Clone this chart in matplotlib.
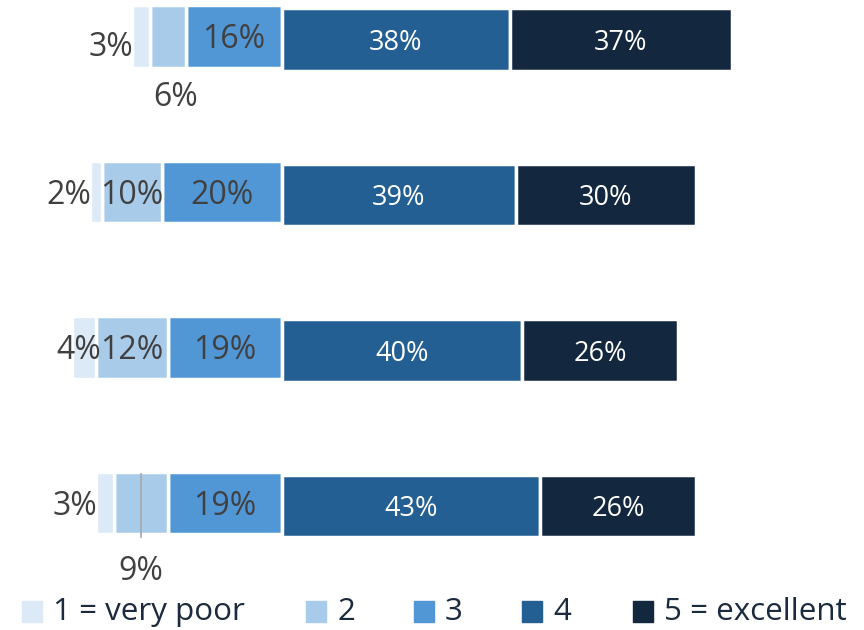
import matplotlib.pyplot as plt
from matplotlib.patches import Rectangle

plt.rcParams['font.family'] = ['Open Sans', 'DejaVu Sans']

# parts des notes 1..5 pour chaque ligne (en %)
rangs = [0, 1, 2, 3]
note_1 = [3, 2, 4, 3]
note_2 = [6, 10, 12, 9]
note_3 = [16, 20, 19, 19]
note_4 = [38, 39, 40, 43]
note_5 = [37, 30, 26, 26]

legende = ['1 = very poor', '2', '3', '4', '5 = excellent']
couleurs = ['#dce9f6', '#a9cbea', '#5197d5', '#245f94', '#13273e']
gris_texte = '#404040'

# placement des petites etiquettes : 'in', 'left' ou 'below'
place_1 = ['left', 'left', 'in', 'left']
place_2 = ['below', 'in', 'in', 'below']

fig = plt.figure(figsize=(8.64, 6.3), dpi=100)
ax = fig.add_axes([0, 0, 1, 1])
ax.set_xlim(-47.0, 97.0)
ax.set_ylim(3.797, -0.254)
ax.axis('off')

h = 0.40
decal = -0.019  # le cote negatif est un peu plus haut
ty = 0.02       # petit decalage vertical du texte

for i in rangs:
    yl = rangs[i] + decal
    yr = rangs[i]
    # cote gauche : 3, 2, 1 en partant du centre
    g3 = -note_3[i]
    g2 = g3 - note_2[i]
    g1 = g2 - note_1[i]
    ax.barh(yl, note_3[i], left=g3, height=h, color=couleurs[2], edgecolor='white', linewidth=2.5)
    ax.barh(yl, note_2[i], left=g2, height=h, color=couleurs[1], edgecolor='white', linewidth=2.5)
    ax.barh(yl, note_1[i], left=g1, height=h, color=couleurs[0], edgecolor='white', linewidth=2.5)
    # cote droit : 4 puis 5
    ax.barh(yr, note_4[i], left=0, height=h, color=couleurs[3], edgecolor='white', linewidth=2.5)
    ax.barh(yr, note_5[i], left=note_4[i], height=h, color=couleurs[4], edgecolor='white', linewidth=2.5)

    # etiquettes
    ax.text(g3 + note_3[i] / 2, yl + ty, str(note_3[i]) + '%', ha='center', va='center',
            fontsize=23, color=gris_texte)
    ax.text(note_4[i] / 2, yr + ty, str(note_4[i]) + '%', ha='center', va='center',
            fontsize=19.5, color='white')
    ax.text(note_4[i] + note_5[i] / 2, yr + ty, str(note_5[i]) + '%', ha='center', va='center',
            fontsize=19.5, color='white')

    if place_1[i] == 'left':
        dy = 0.05 if i == 0 else 0
        ax.text(g1 + 0.2, yl + ty + dy, str(note_1[i]) + '%', ha='right', va='center',
                fontsize=23, color=gris_texte)
    else:
        ax.text(g1 + note_1[i] / 2 - 0.8, yl + ty, str(note_1[i]) + '%', ha='center', va='center',
                fontsize=23, color=gris_texte)

    c2 = g2 + note_2[i] / 2
    if place_2[i] == 'below':
        dx = 1.2 if i == 0 else 0
        dy = 0.37 if i == 0 else 0.42
        ax.text(c2 + dx, yl + ty + dy, str(note_2[i]) + '%', ha='center', va='center',
                fontsize=23, color=gris_texte)
        if i == 3:
            ax.plot([c2, c2], [yl - 0.19, yl + 0.22], color='#a6a6a6', linewidth=1.2)
    else:
        ax.text(c2, yl + ty, str(note_2[i]) + '%', ha='center', va='center',
                fontsize=23, color=gris_texte)

# legende en bas
carre_x = [22, 306, 414, 522, 633]
for k in range(0, 5):
    x0 = carre_x[k] / 864
    fig.patches.append(Rectangle((x0, 1 - 622 / 630), 20 / 864, 21 / 630,
                                 transform=fig.transFigure, color=couleurs[k]))
    fig.text(x0 + 31 / 864, 1 - 612 / 630, legende[k], ha='left', va='center',
             fontsize=22.6, color='#1b2a3d')

fig.savefig('out.png', dpi=100)
